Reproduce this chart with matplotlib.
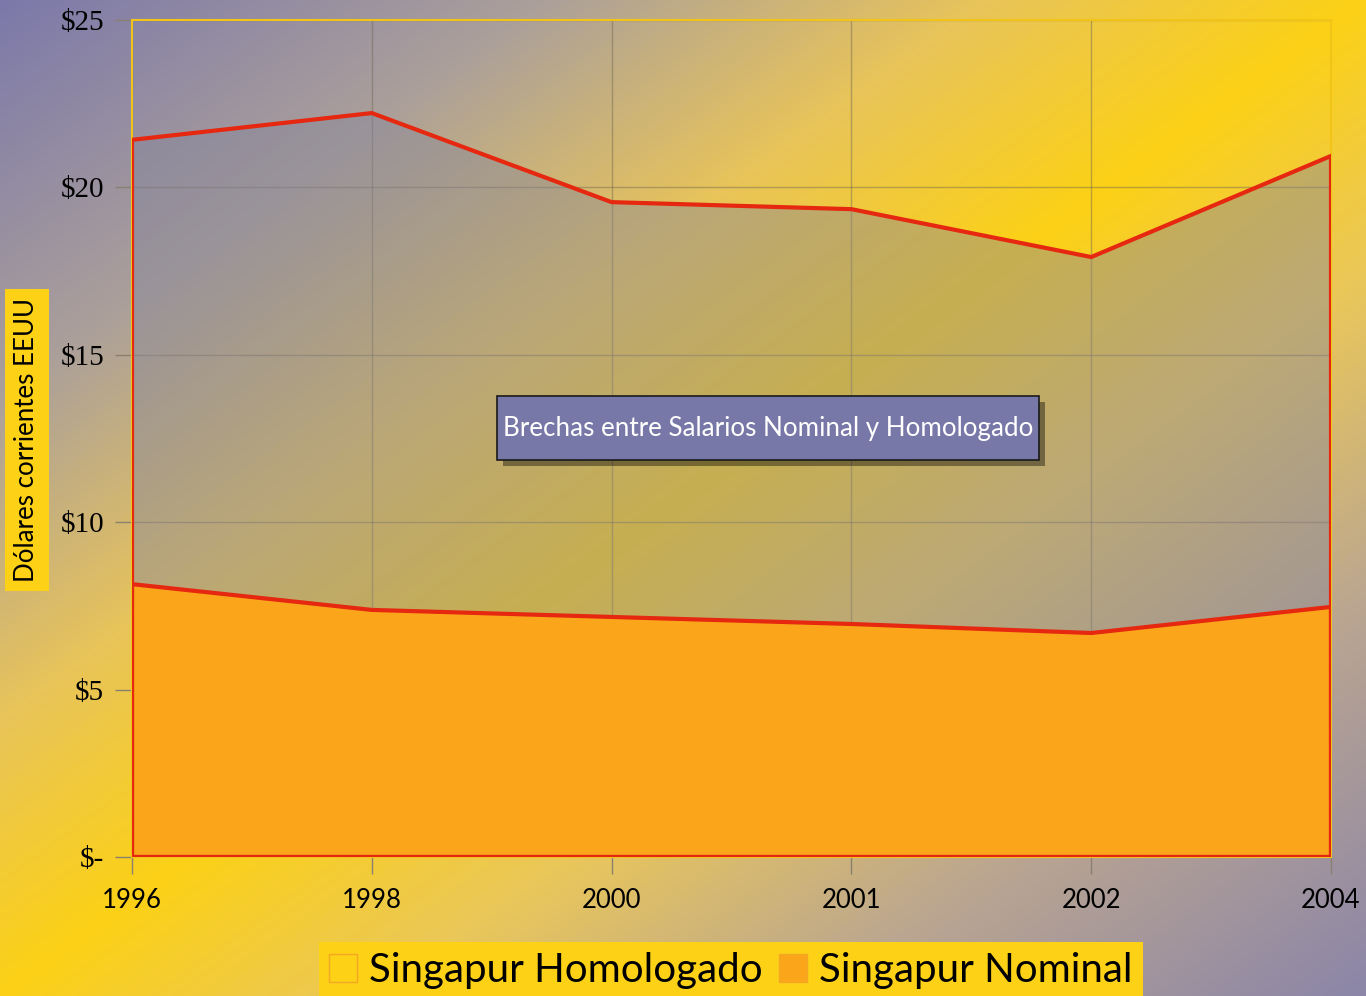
import numpy as np
import matplotlib as mpl
mpl.use('Agg')
import matplotlib.pyplot as plt
import matplotlib.patheffects as pe
from matplotlib.colors import LinearSegmentedColormap
from matplotlib.patches import Patch, Rectangle

# data
years = ['1996', '1998', '2000', '2001', '2002', '2004']
homologado = [21.42, 22.22, 19.56, 19.35, 17.92, 20.94]
nominal = [8.15, 7.38, 7.17, 6.96, 6.69, 7.47]
yticks = [0, 5, 10, 15, 20, 25]
ylabels = ['$-', '$5', '$10', '$15', '$20', '$25']

RED = '#E5280F'
ORANGE = '#FBA61A'
YELLOW = '#FCD116'
SANS = 'Lato'
SERIF = 'Liberation Serif'

fig = plt.figure(figsize=(13.66, 9.96), dpi=100)

# diagonal background: purple corners (top-left / bottom-right), yellow band across
bg = fig.add_axes([0, 0, 1, 1], zorder=-10)
bg.axis('off')
u, v = np.meshgrid(np.linspace(0, 1, 683), np.linspace(0, 1, 498))
s = (u + v) / 2.0
cmap = LinearSegmentedColormap.from_list('bgr', [
    (0.0, '#7C79AA'), (0.2, '#ACA09A'), (0.36, '#E8C45A'), (0.5, YELLOW),
    (0.64, '#EAC75A'), (0.8, '#BBA690'), (1.0, '#8C86A8')])
bg.imshow(s, cmap=cmap, vmin=0, vmax=1, aspect='auto', extent=[0, 1, 0, 1],
          origin='upper', interpolation='bilinear')
bg.set_xlim(0, 1)
bg.set_ylim(0, 1)

ax = fig.add_axes([132/1366, 1 - 857/996, 1199/1366, 837/996])
ax.patch.set_alpha(0)
x = np.arange(len(years))

ax.fill_between(x, 0, homologado, facecolor='#85859A', alpha=0.45, lw=0, zorder=2)
ax.fill_between(x, 0, nominal, facecolor=ORANGE, lw=0, zorder=3)
# red outlines of both areas
for vals, z in ((homologado, 4), (nominal, 5)):
    px = np.r_[x[0], x, x[-1], x[0]]
    py = np.r_[0, vals, 0, 0]
    ax.plot(px, py, color=RED, lw=3, solid_joinstyle='miter', zorder=z)

ax.set_xlim(x[0], x[-1])
ax.set_ylim(0, 25)
ax.set_xticks(x)
ax.set_xticklabels(years, fontsize=18.5, fontfamily=SANS)
ax.set_yticks(yticks)
ax.set_yticklabels(ylabels, fontsize=21, fontfamily=SERIF)
ax.tick_params(axis='both', direction='out', length=12, color='#8a8070', width=1)
ax.tick_params(axis='x', pad=10)
ax.tick_params(axis='y', pad=8)
ax.grid(True, color='#6e6650', alpha=0.45, lw=1, zorder=1)
ax.set_axisbelow(True)
for side in ('top', 'right', 'left', 'bottom'):
    ax.spines[side].set_color('#F2C418')
    ax.spines[side].set_linewidth(1.5)

fig.text(27/1366, 1 - 440/996, 'Dólares corrientes EEUU', rotation=90,
         ha='center', va='center', fontsize=18.6, fontfamily=SANS,
         bbox=dict(boxstyle='square,pad=0.35', fc=YELLOW, ec='none'))

# note box with drop shadow
box = Rectangle((0.3044, 0.4743), 0.4521, 0.0765, transform=ax.transAxes,
                facecolor='#7878A8', edgecolor='#1a1a1a', lw=1.2, zorder=8)
box.set_path_effects([
    pe.SimplePatchShadow(offset=(4, -4), shadow_rgbFace='black', alpha=0.4),
    pe.Normal()])
ax.add_patch(box)
ax.text(0.5304, 0.5125, 'Brechas entre Salarios Nominal y Homologado',
        transform=ax.transAxes, ha='center', va='center', color='white',
        fontsize=18.7, fontfamily=SANS, zorder=9)

handles = [Patch(facecolor=YELLOW, edgecolor='#F5A623', lw=1),
           Patch(facecolor=ORANGE, edgecolor='#F5A623', lw=1)]
leg = fig.legend(handles, ['Singapur Homologado', 'Singapur Nominal'],
                 loc='upper center', bbox_to_anchor=(731/1366, 1 - 942/996),
                 borderaxespad=0, ncol=2, frameon=True,
                 prop=dict(family=SANS, size=29),
                 handlelength=0.7, handleheight=0.7, handletextpad=0.3,
                 columnspacing=0.4, borderpad=0.25, fancybox=False)
leg.get_frame().set_facecolor(YELLOW)
leg.get_frame().set_edgecolor('none')
leg.get_frame().set_alpha(1)

fig.savefig('out.png', dpi=100)
